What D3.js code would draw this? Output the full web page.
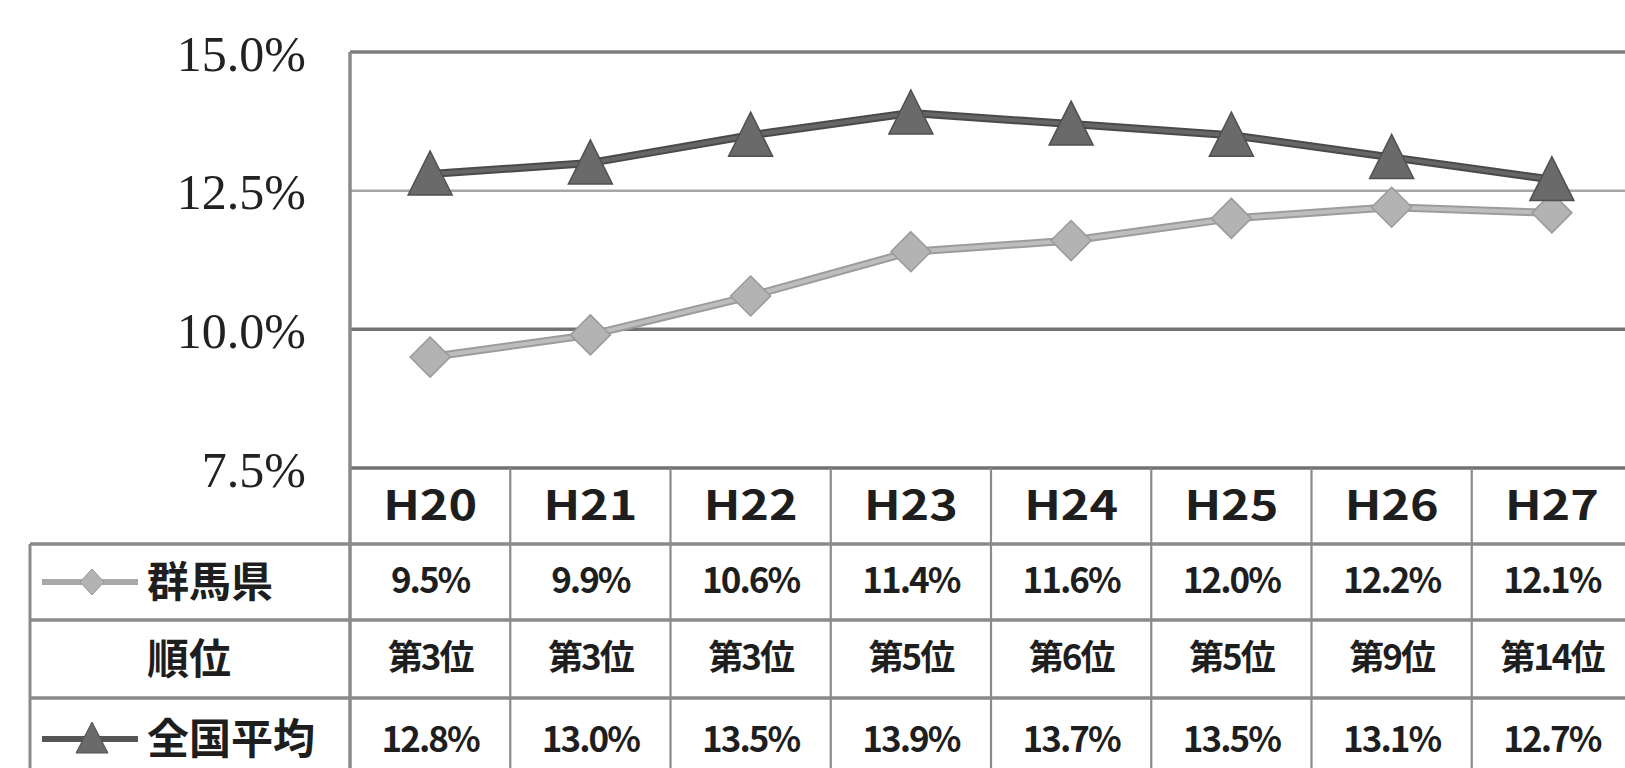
<!DOCTYPE html>
<html lang="ja">
<head>
<meta charset="utf-8">
<script src="https://cdn.jsdelivr.net/npm/d3@7"></script>
<style>
  html, body { margin: 0; padding: 0; background: #fff; }
  svg { display: block; }
</style>
</head>
<body>
<svg id="chart" width="1625" height="768"></svg>
<script>
// 年度
const years = ["H20", "H21", "H22", "H23", "H24", "H25", "H26", "H27"];
// 群馬県の割合 (%)
const gunma = [9.5, 9.9, 10.6, 11.4, 11.6, 12.0, 12.2, 12.1];
// 全国順位
const ranks = ["第3位", "第3位", "第3位", "第5位", "第6位", "第5位", "第9位", "第14位"];
// 全国平均 (%)
const national = [12.8, 13.0, 13.5, 13.9, 13.7, 13.5, 13.1, 12.7];
// 縦軸の目盛
const yTicks = [7.5, 10.0, 12.5, 15.0];
// 表の行見出し
const rowLabels = ["群馬県", "順位", "全国平均"];

const svg = d3.select("#chart");

const plotLeft = 350, plotRight = 1632, plotTop = 52, plotBottom = 468;
const tableLeft = 30;
const rowEdges = [468, 544, 620, 698, 780];

const x = d3.scaleBand().domain(years).range([plotLeft, plotRight]).padding(0);
const y = d3.scaleLinear().domain([7.5, 15]).range([plotBottom, plotTop]);
const cx = d => x(d) + x.bandwidth() / 2;

const gothic = "'Noto Sans CJK JP', 'Noto Sans', sans-serif";

// 横の目盛線
const gridColor = { 15: "#7d7d7d", 12.5: "#a6a6a6", 10: "#727272", 7.5: "#727272" };
svg.append("g").selectAll("line")
  .data(yTicks)
  .join("line")
  .attr("x1", plotLeft).attr("x2", plotRight)
  .attr("y1", d => y(d)).attr("y2", d => y(d))
  .attr("stroke", d => gridColor[d])
  .attr("stroke-width", d => d === 12.5 ? 2.5 : 3.5);

// 縦軸
const yAxis = svg.append("g")
  .attr("transform", `translate(${plotLeft},0)`)
  .call(d3.axisLeft(y).tickValues(yTicks).tickFormat(d => d.toFixed(1) + "%").tickSize(0).tickPadding(44));
yAxis.select(".domain").remove();
yAxis.selectAll("text")
  .attr("font-family", "'Liberation Serif', 'Times New Roman', serif")
  .attr("font-size", 50)
  .attr("fill", "#222")
  .attr("dy", "0.36em");

// 表の罫線
const table = svg.append("g").attr("stroke", "#8a8a8a");
table.selectAll("line.h")
  .data(rowEdges.slice(1, 4))
  .join("line")
  .attr("class", "h")
  .attr("x1", tableLeft).attr("x2", plotRight)
  .attr("y1", d => d).attr("y2", d => d)
  .attr("stroke-width", 3.5);
table.selectAll("line.v")
  .data(d3.range(years.length + 1))
  .join("line")
  .attr("class", "v")
  .attr("x1", i => plotLeft + i * x.bandwidth())
  .attr("x2", i => plotLeft + i * x.bandwidth())
  .attr("y1", i => i === 0 ? plotTop : plotBottom)
  .attr("y2", 790)
  .attr("stroke-width", i => i === 0 ? 3.5 : 2.2);
table.append("line")
  .attr("x1", tableLeft).attr("x2", tableLeft)
  .attr("y1", rowEdges[1]).attr("y2", 790)
  .attr("stroke-width", 3);

// 折れ線と記号
const line = d3.line().x((d, i) => cx(years[i])).y(d => y(d));
const diamond = (s, h) => `M0,${-h}L${s},0L0,${h}L${-s},0Z`;
const triangle = (w, top, bot) => `M0,${-top}L${w},${bot}L${-w},${bot}Z`;

// 群馬県
svg.append("path").datum(gunma).attr("d", line)
  .attr("fill", "none").attr("stroke", "#9c9c9c").attr("stroke-width", 8).attr("stroke-linejoin", "round");
svg.append("path").datum(gunma).attr("d", line)
  .attr("fill", "none").attr("stroke", "#bdbdbd").attr("stroke-width", 4).attr("stroke-linejoin", "round");
svg.append("g").selectAll("path")
  .data(gunma)
  .join("path")
  .attr("transform", (d, i) => `translate(${cx(years[i])},${y(d)})`)
  .attr("d", diamond(20, 20))
  .attr("fill", "#b3b3b3")
  .attr("stroke", "#9a9a9a")
  .attr("stroke-width", 1.5);

// 全国平均
svg.append("path").datum(national).attr("d", line)
  .attr("fill", "none").attr("stroke", "#4a4a4a").attr("stroke-width", 8).attr("stroke-linejoin", "round");
svg.append("path").datum(national).attr("d", line)
  .attr("fill", "none").attr("stroke", "#666").attr("stroke-width", 4).attr("stroke-linejoin", "round");
svg.append("g").selectAll("path")
  .data(national)
  .join("path")
  .attr("transform", (d, i) => `translate(${cx(years[i])},${y(d)})`)
  .attr("d", triangle(22, 23, 21))
  .attr("fill", "#6a6a6a")
  .attr("stroke", "#505050")
  .attr("stroke-width", 1.5);

// 表の中身
const rowMid = i => (rowEdges[i] + rowEdges[i + 1]) / 2;
const cells = svg.append("g")
  .attr("font-family", gothic)
  .attr("font-weight", 700)
  .attr("fill", "#1e1e1e")
  .attr("text-anchor", "middle");

cells.selectAll("text.year")
  .data(years)
  .join("text")
  .attr("class", "year")
  .attr("x", d => cx(d))
  .attr("y", rowMid(0))
  .attr("dy", "0.36em")
  .attr("font-size", 40)
  .attr("textLength", 94)
  .attr("lengthAdjust", "spacingAndGlyphs")
  .text(d => d);

cells.selectAll("text.gunma")
  .data(gunma)
  .join("text")
  .attr("class", "gunma")
  .attr("x", (d, i) => cx(years[i]))
  .attr("y", rowMid(1) - 2)
  .attr("dy", "0.36em")
  .attr("font-size", 35)
  .attr("letter-spacing", -2)
  .text(d => d.toFixed(1) + "%");

cells.selectAll("text.rank")
  .data(ranks)
  .join("text")
  .attr("class", "rank")
  .attr("x", (d, i) => cx(years[i]))
  .attr("y", rowMid(2) - 2)
  .attr("dy", "0.36em")
  .attr("font-size", 35)
  .attr("letter-spacing", -2)
  .text(d => d);

cells.selectAll("text.national")
  .data(national)
  .join("text")
  .attr("class", "national")
  .attr("x", (d, i) => cx(years[i]))
  .attr("y", rowMid(3))
  .attr("dy", "0.36em")
  .attr("font-size", 35)
  .attr("letter-spacing", -2)
  .text(d => d.toFixed(1) + "%");

// 行見出しと凡例
const labelX = 147;
const heads = svg.append("g")
  .attr("font-family", gothic)
  .attr("font-weight", 700)
  .attr("fill", "#1e1e1e");
heads.selectAll("text")
  .data(rowLabels)
  .join("text")
  .attr("x", labelX)
  .attr("y", (d, i) => rowMid(i + 1))
  .attr("dy", "0.36em")
  .attr("font-size", 42)
  .text(d => d);

const keyG = svg.append("g").attr("transform", `translate(0,${rowMid(1)})`);
keyG.append("line").attr("x1", 42).attr("x2", 138).attr("y1", 0).attr("y2", 0)
  .attr("stroke", "#a8a8a8").attr("stroke-width", 6);
keyG.append("path").attr("transform", "translate(92,0)").attr("d", diamond(12, 13))
  .attr("fill", "#b3b3b3").attr("stroke", "#9a9a9a").attr("stroke-width", 1);

const keyN = svg.append("g").attr("transform", `translate(0,${rowMid(3)})`);
keyN.append("line").attr("x1", 42).attr("x2", 138).attr("y1", 0).attr("y2", 0)
  .attr("stroke", "#555").attr("stroke-width", 6);
keyN.append("path").attr("transform", "translate(92,0)").attr("d", triangle(16, 17, 14))
  .attr("fill", "#6a6a6a").attr("stroke", "#505050").attr("stroke-width", 1);
</script>
</body>
</html>
